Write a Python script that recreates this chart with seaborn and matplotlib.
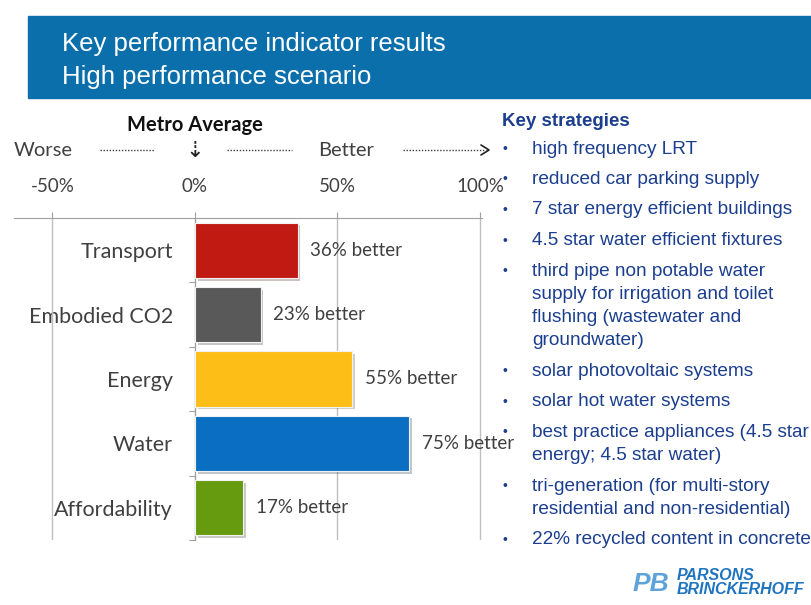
import matplotlib
matplotlib.use("Agg")
import matplotlib.pyplot as plt
import matplotlib.patheffects as pe
from matplotlib.patches import Rectangle
from matplotlib.lines import Line2D
import seaborn as sns
import pandas as pd

# data
categories = ["Transport", "Embodied CO2", "Energy", "Water", "Affordability"]
improvement = [36, 23, 55, 75, 17]
bar_colors = ["#C01A12", "#595959", "#FDBE17", "#0A6FC2", "#669A0F"]
xtick_values = [-50, 0, 50, 100]
xtick_labels = ["-50%", "0%", "50%", "100%"]
title_lines = ["Key performance indicator results", "High performance scenario"]
strategies = [
    ["high frequency LRT"],
    ["reduced car parking supply"],
    ["7 star energy efficient buildings"],
    ["4.5 star water efficient fixtures"],
    ["third pipe non potable water", "supply for irrigation and toilet",
     "flushing (wastewater and", "groundwater)"],
    ["solar photovoltaic systems"],
    ["solar hot water systems"],
    ["best practice appliances (4.5 star", "energy; 4.5 star water)"],
    ["tri-generation (for multi-story", "residential and non-residential)"],
    ["22% recycled content in concrete"],
]

df = pd.DataFrame({"category": categories, "value": improvement})

sns.set_style("white")
plt.rcParams["font.family"] = ["Lato", "DejaVu Sans"]

W, H = 812, 605
fig = plt.figure(figsize=(W / 100, H / 100), dpi=100)


def fx(x):
    return x / W


def fy(y):
    return 1 - y / H


# title banner
fig.patches.append(Rectangle((fx(28), fy(98)), fx(812 - 28), (98 - 16) / H,
                             transform=fig.transFigure, color="#0B6FAC", zorder=0))
title_font = ["Liberation Sans", "DejaVu Sans"]
fig.text(fx(62), fy(51), title_lines[0], color="white", fontsize=18.5,
         family=title_font, va="baseline")
fig.text(fx(62), fy(84), title_lines[1], color="white", fontsize=18.5,
         family=title_font, va="baseline")

# chart area
gray = "#404040"
ax = fig.add_axes([fx(14), fy(540), fx(482 - 14), (540 - 218) / H])
sns.barplot(data=df, x="value", y="category", hue="category", palette=bar_colors,
            saturation=1, legend=False, orient="h", width=0.86, ax=ax, zorder=3,
            edgecolor="#F2F2F2", linewidth=0.8)
for bar in ax.patches:
    bar.set_path_effects([pe.SimplePatchShadow(offset=(2, -2), alpha=0.25), pe.Normal()])

ax.set_xlim(-63.5, 100.7)
ax.set_ylim(4.5, -0.5)
ax.set_xlabel("")
ax.set_ylabel("")

ax.xaxis.tick_top()
ax.set_xticks(xtick_values)
ax.set_xticklabels(xtick_labels)
ax.tick_params(axis="x", which="major", top=True, length=4.5, width=0.8,
               color="#A0A0A0", pad=12, labelsize=13.5, labelcolor=gray)
for v in xtick_values:
    ax.axvline(v, color="#BFBFBF", lw=1, zorder=1)

ax.spines["left"].set_position(("data", 0))
ax.spines["left"].set_color("#A0A0A0")
ax.spines["top"].set_color("#A0A0A0")
ax.spines["right"].set_visible(False)
ax.spines["bottom"].set_visible(False)
ax.set_yticks(range(len(categories)))
ax.set_yticks([i + 0.5 for i in range(len(categories))], minor=True)
ax.tick_params(axis="y", which="major", length=0, pad=16, labelsize=15.5, labelcolor=gray)
ax.tick_params(axis="y", which="minor", left=True, length=4.5, width=0.8, color="#A0A0A0")

for i, v in enumerate(improvement):
    ax.text(v + 4.5, i, f"{v}% better", va="center", ha="left", fontsize=13.5,
            color=gray, zorder=4)

# scale annotations above the axis
fig.text(fx(195), fy(125), "Metro Average", ha="center", va="center",
         fontsize=14.5, fontweight="bold", color="#111111")
fig.text(fx(14), fy(150), "Worse", ha="left", va="center", fontsize=14.5, color=gray)
fig.text(fx(318), fy(150), "Better", ha="left", va="center", fontsize=14.5, color=gray)
fig.text(fx(195), fy(151), "\u21e3", ha="center", va="center", fontsize=16,
         color="#222222", family="DejaVu Sans")
for x0, x1 in [(100, 155), (227, 292)]:
    fig.add_artist(Line2D([fx(x0), fx(x1)], [fy(150), fy(150)], color=gray,
                          lw=1, ls=(0, (1, 1.2)), transform=fig.transFigure))
fig.add_artist(Line2D([fx(403), fx(486)], [fy(150), fy(150)], color=gray,
                      lw=1, ls=(0, (1, 1.2)), transform=fig.transFigure))
fig.add_artist(Line2D([fx(481), fx(489), fx(481)], [fy(145), fy(150), fy(155)],
                      color="#222222", lw=1.2, transform=fig.transFigure))

# key strategies list
navy = "#1B3E8E"
right_font = ["Liberation Sans", "DejaVu Sans"]
fig.text(fx(502), fy(122), "Key strategies", fontsize=13.5, fontweight="bold",
         color=navy, family=right_font, va="center")
y = 149
for item in strategies:
    fig.text(fx(505), fy(y), "\u2022", fontsize=10, color=navy, family=right_font,
             va="center", ha="center")
    for j, line in enumerate(item):
        fig.text(fx(532), fy(y + 23.3 * j), line, fontsize=13.7, color=navy,
                 family=right_font, va="center")
    y += 23.3 * (len(item) - 1) + 30.5

# logo
fig.text(fx(633), fy(591), "PB", fontsize=19, fontweight="bold", style="italic",
         color="#5DA3DA", family=right_font, va="baseline")
fig.text(fx(677), fy(580), "PARSONS", fontsize=11.5, fontweight="bold", style="italic",
         color="#1F74C0", family=right_font, va="baseline")
fig.text(fx(677), fy(594), "BRINCKERHOFF", fontsize=11.5, fontweight="bold",
         style="italic", color="#1F74C0", family=right_font, va="baseline")

fig.savefig("out.png", dpi=100)
